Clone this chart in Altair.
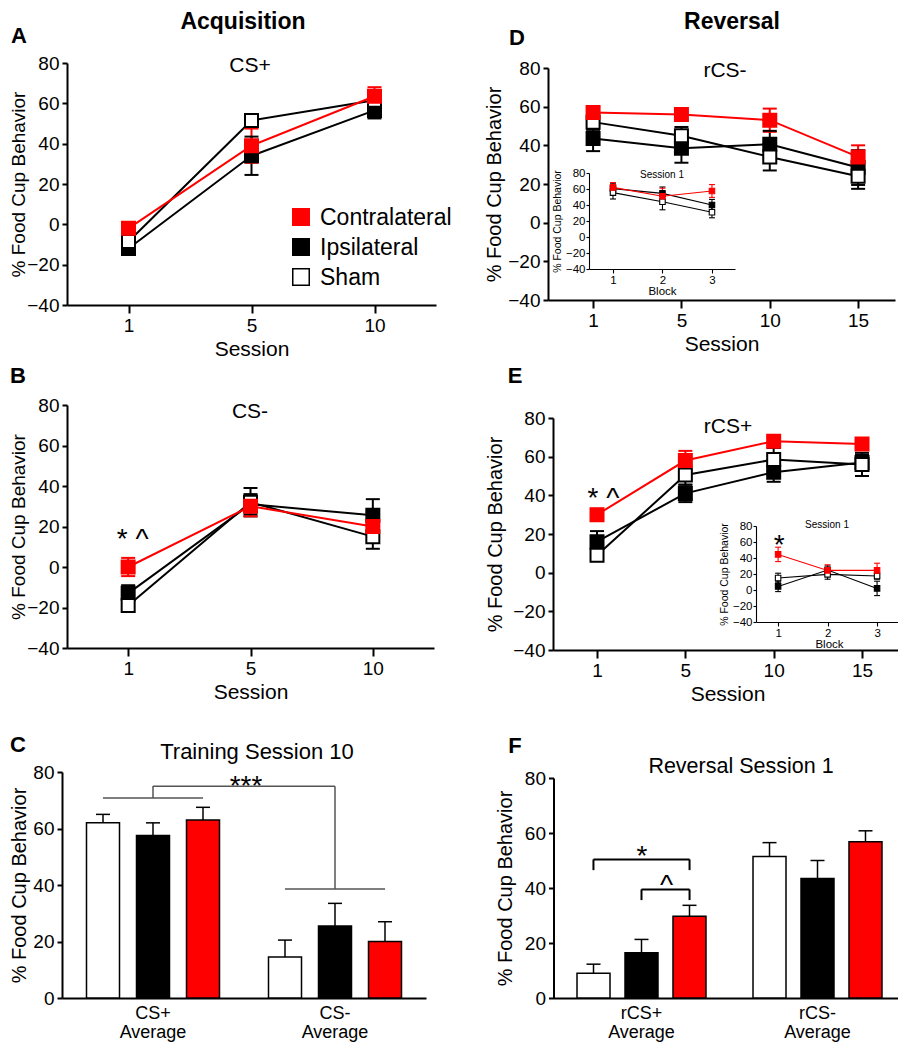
import altair as alt
import pandas as pd

# ---------------- data ----------------
GROUPS = ["Contralateral", "Ipsilateral", "Sham"]
DRAW_ORDER = ["Ipsilateral", "Sham", "Contralateral"]
BAR_ORDER = ["Sham", "Ipsilateral", "Contralateral"]
FILL_RANGE = ["#ff0000", "#000000", "#ffffff"]
EDGE_RANGE = ["#ff0000", "#000000", "#000000"]

SESSIONS_ACQ = ["1", "5", "10"]
SESSIONS_REV = ["1", "5", "10", "15"]
BLOCKS = ["1", "2", "3"]

# A: CS+
A_CONTRA = [-2, 39, 63.5]
A_CONTRA_SEM = [3, 8.5, 4.5]
A_IPSI = [-12, 34, 56.5]
A_IPSI_SEM = [2.5, 9.5, 4]
A_SHAM = [-8.5, 51.5, 61.5]
A_SHAM_SEM = [3, 3, 3]

# B: CS-
B_CONTRA = [0, 30, 20]
B_CONTRA_SEM = [4.5, 5, 7]
B_IPSI = [-13, 31, 25.5]
B_IPSI_SEM = [4, 5, 8]
B_SHAM = [-19, 32, 15]
B_SHAM_SEM = [3, 7, 6]

# C: Training Session 10
C_CATS = ["CS+|Average", "CS-|Average"]
C_SHAM = [62, 14.5]
C_SHAM_SEM = [3, 6]
C_IPSI = [57.5, 25.5]
C_IPSI_SEM = [4.5, 8]
C_CONTRA = [63, 20]
C_CONTRA_SEM = [4.5, 7]
C_BR_X = [0.225, 0.5, 0.5, 1.5, 1.225]
C_BR_X2 = [0.775, 0.5, 1.5, 1.5, 1.775]
C_BR_Y = [70.8, 70.8, 75, 75, 38.6]
C_BR_Y2 = [70.8, 75, 75, 38.6, 38.6]
C_SIG = ["***"]
C_SIG_X = [1.011]
C_SIG_Y = [71.9]

# D: rCS-
D_CONTRA = [57, 56, 53, 34]
D_CONTRA_SEM = [2.5, 3, 6, 6]
D_IPSI = [43.5, 38.5, 40.5, 28.5]
D_IPSI_SEM = [6.5, 7.5, 7, 9]
D_SHAM = [52, 45, 34, 24]
D_SHAM_SEM = [4, 4.5, 7, 6.5]

# D inset: session 1 blocks
DI_CONTRA = [62, 51, 57.5]
DI_CONTRA_SEM = [6, 10, 8]
DI_IPSI = [60.5, 54.5, 40]
DI_IPSI_SEM = [6, 8, 7]
DI_SHAM = [55.5, 44, 31]
DI_SHAM_SEM = [8, 10, 7]

# E: rCS+
E_CONTRA = [30, 58, 68, 66.5]
E_CONTRA_SEM = [3, 5, 2, 2]
E_IPSI = [16, 41, 52, 57]
E_IPSI_SEM = [5.5, 4.5, 5, 4]
E_SHAM = [9, 50.5, 58.5, 56]
E_SHAM_SEM = [3, 5, 6, 6]

# E inset: session 1 blocks
EI_CONTRA = [44.5, 24.5, 24.5]
EI_CONTRA_SEM = [9, 7, 9]
EI_IPSI = [4.5, 25, 2]
EI_IPSI_SEM = [6.5, 5, 9]
EI_SHAM = [15, 19.5, 17.5]
EI_SHAM_SEM = [6, 6, 4]

# F: Reversal Session 1
F_CATS = ["rCS+|Average", "rCS-|Average"]
F_SHAM = [9, 51.5]
F_SHAM_SEM = [3.3, 5]
F_IPSI = [16.5, 43.5]
F_IPSI_SEM = [4.8, 6.5]
F_CONTRA = [29.7, 56.8]
F_CONTRA_SEM = [4, 4]
F_BR_X = [0.227, 0.227, 0.773, 0.5, 0.5, 0.773]
F_BR_X2 = [0.227, 0.773, 0.773, 0.5, 0.773, 0.773]
F_BR_Y = [46.5, 50.4, 50.4, 35.6, 39.5, 39.5]
F_BR_Y2 = [50.4, 50.4, 46.5, 39.5, 39.5, 35.6]
F_SIG = ["*", "^"]
F_SIG_X = [0.503, 0.642]
F_SIG_Y = [48.4, 37.8]

# ---------------- layout / style ----------------
W, H, M = 890, 1034, 8
FONT = "Liberation Sans"
Y_TICKS = [-40, -20, 0, 20, 40, 60, 80]
BAR_TICKS = [0, 20, 40, 60, 80]

fill_scale = alt.Scale(domain=GROUPS, range=FILL_RANGE)
edge_scale = alt.Scale(domain=GROUPS, range=EDGE_RANGE)


def px(v):
    return v - M


def line_panel(xs, series, xr, yr, pad, align, xtitle, big, star=None, ytp=None, ytfs=None):
    rows = []
    for g in DRAW_ORDER:
        m, s = series[g]
        for i, (x, mv, sv) in enumerate(zip(xs, m, s)):
            rows.append({"x": x, "i": i, "group": g, "mean": mv, "lo": mv - sv, "hi": mv + sv})
    df = pd.DataFrame(rows)
    lw = 2.0 if big else 1.1
    xscale = alt.Scale(type="point", domain=xs, range=[px(xr[0]), px(xr[1])], padding=pad, align=align)
    yscale = alt.Scale(type="linear", domain=[-40, 80], range=[px(yr[0]), px(yr[1])], nice=False, zero=False)
    xaxis = alt.Axis(orient="bottom", offset=px(yr[0]) - H, title=xtitle, labelAngle=0,
                     labelFontSize=19 if big else 11.5, titleFontSize=21 if big else 11.5,
                     tickSize=8 if big else 4, tickWidth=lw, domainWidth=lw,
                     labelPadding=3 if big else 1, titlePadding=3 if big else 0)
    if ytp is None:
        ytp = 9 if big else 3
    if ytfs is None:
        ytfs = 20 if big else 10.5
    yaxis = alt.Axis(orient="left", offset=-px(xr[0]), values=Y_TICKS, title="% Food Cup Behavior",
                     labelFontSize=19 if big else 11.5, titleFontSize=ytfs,
                     tickSize=5 if big else 3, tickWidth=lw, domainWidth=lw,
                     labelPadding=3 if big else 1, titlePadding=ytp)
    X = alt.X("x:N", scale=xscale, axis=xaxis, sort=xs)

    def Y(f):
        return alt.Y(f"{f}:Q", scale=yscale, axis=yaxis)

    base = alt.Chart(df)
    stroke = alt.Stroke("group:N", scale=edge_scale)
    line = base.mark_line(strokeWidth=lw).encode(x=X, y=Y("mean"), stroke=stroke, order="i:Q")
    err = base.mark_rule(strokeWidth=lw).encode(x=X, y=Y("lo"), y2="hi:Q", stroke=stroke)
    caps = [base.mark_tick(thickness=lw, size=14 if big else 6, opacity=1).encode(
        x=X, y=Y(f), color=alt.Color("group:N", scale=edge_scale)) for f in ("lo", "hi")]
    pts = base.mark_square(size=169 if big else 30, strokeWidth=lw, opacity=1).encode(
        x=X, y=Y("mean"), fill=alt.Fill("group:N", scale=fill_scale), stroke=stroke)
    layers = [line, err, *caps, pts]
    if star is not None:
        t, yv, dx = star
        sdf = pd.DataFrame({"x": [xs[0]], "mean": [yv], "t": [t]})
        layers.append(alt.Chart(sdf).mark_text(fontSize=28, font=FONT, baseline="alphabetic", dx=dx,
                                               color="black").encode(x=X, y=Y("mean"), text="t:N"))
    return alt.layer(*layers)


def bar_panel(cats, series, xr, yr, inner, outer, ytp):
    rows = []
    for g in BAR_ORDER:
        m, s = series[g]
        for c, mv, sv in zip(cats, m, s):
            rows.append({"cat": c, "group": g, "mean": mv, "hi": mv + sv})
    df = pd.DataFrame(rows)
    xscale = alt.Scale(type="band", domain=cats, range=[px(xr[0]), px(xr[1])], paddingInner=0, paddingOuter=0)
    oscale = alt.Scale(type="band", domain=BAR_ORDER, paddingInner=inner, paddingOuter=outer)
    yscale = alt.Scale(type="linear", domain=[0, 80], range=[px(yr[0]), px(yr[1])], nice=False, zero=False)
    xaxis = alt.Axis(orient="bottom", offset=px(yr[0]) - H, title=None, ticks=False, labelAngle=0,
                     labelExpr="split(datum.label, '|')", labelFontSize=18, labelLineHeight=19,
                     labelPadding=6, domainWidth=2)
    yaxis = alt.Axis(orient="left", offset=-px(xr[0]), values=BAR_TICKS, title="% Food Cup Behavior",
                     labelFontSize=19, titleFontSize=20, tickSize=5, tickWidth=2, domainWidth=2,
                     labelPadding=3, titlePadding=ytp)
    X = alt.X("cat:N", scale=xscale, axis=xaxis, sort=cats)
    XO = alt.XOffset("group:N", scale=oscale, sort=BAR_ORDER)

    def Y(f):
        return alt.Y(f"{f}:Q", scale=yscale, axis=yaxis)

    base = alt.Chart(df)
    bars = base.mark_bar(stroke="black", strokeWidth=1.5).encode(
        x=X, xOffset=XO, y=Y("mean"), fill=alt.Fill("group:N", scale=fill_scale))
    err = base.mark_rule(strokeWidth=1.5, color="black").encode(x=X, xOffset=XO, y=Y("mean"), y2="hi:Q")
    cap = base.mark_tick(thickness=1.5, size=14, color="black", opacity=1).encode(x=X, xOffset=XO, y=Y("hi"))
    return alt.layer(bars, err, cap)


def bracket_layer(xr, yr, bx, bx2, by, by2, color, width, sig, sx, sy):
    xs = alt.Scale(type="linear", domain=[0, 2], range=[px(xr[0]), px(xr[1])], nice=False, zero=False)
    ys = alt.Scale(type="linear", domain=[0, 80], range=[px(yr[0]), px(yr[1])], nice=False, zero=False)
    df = pd.DataFrame({"x": bx, "x2": bx2, "y": by, "y2": by2})
    rules = alt.Chart(df).mark_rule(color=color, strokeWidth=width).encode(
        x=alt.X("x:Q", scale=xs, axis=None), x2="x2:Q",
        y=alt.Y("y:Q", scale=ys, axis=None), y2="y2:Q")
    tdf = pd.DataFrame({"x": sx, "y": sy, "t": sig})
    text = alt.Chart(tdf).mark_text(fontSize=28, font=FONT, baseline="alphabetic", color="black").encode(
        x=alt.X("x:Q", scale=xs, axis=None), y=alt.Y("y:Q", scale=ys, axis=None), text="t:N")
    return alt.layer(rules, text)


def legend_layer(x_sym, x_text, y_first, y_last):
    ldf = pd.DataFrame({"group": GROUPS})
    ys = alt.Scale(type="point", domain=GROUPS, range=[px(y_first), px(y_last)], padding=0)
    Yl = alt.Y("group:N", scale=ys, axis=None, sort=GROUPS)
    sq = alt.Chart(ldf).mark_square(size=272, strokeWidth=1.5, opacity=1).encode(
        x=alt.value(px(x_sym)), y=Yl,
        fill=alt.Fill("group:N", scale=fill_scale), stroke=alt.Stroke("group:N", scale=edge_scale))
    txt = alt.Chart(ldf).mark_text(align="left", baseline="alphabetic", dy=8.3, fontSize=23, font=FONT,
                                   color="black").encode(x=alt.value(px(x_text)), y=Yl, text="group:N")
    return alt.layer(sq, txt)


def label(text, x, y, size, bold=False):
    return alt.Chart(pd.DataFrame({"t": [text]})).mark_text(
        font=FONT, fontSize=size, fontWeight="bold" if bold else "normal",
        baseline="alphabetic", align="center", color="black").encode(
        x=alt.value(px(x)), y=alt.value(px(y)), text="t:N")


panel_a = line_panel(SESSIONS_ACQ, {"Contralateral": (A_CONTRA, A_CONTRA_SEM), "Ipsilateral": (A_IPSI, A_IPSI_SEM),
                                    "Sham": (A_SHAM, A_SHAM_SEM)},
                     (67, 436), (305, 63), 0.5, 0.5, "Session", True, ytp=-2, ytfs=19)
legend_a = legend_layer(301, 320, 217, 277)
panel_b = line_panel(SESSIONS_ACQ, {"Contralateral": (B_CONTRA, B_CONTRA_SEM), "Ipsilateral": (B_IPSI, B_IPSI_SEM),
                                    "Sham": (B_SHAM, B_SHAM_SEM)},
                     (67, 434), (648, 405), 0.5, 0.5, "Session", True, star=("* ^", 9.4, 4.5), ytp=-2, ytfs=19)
panel_c = bar_panel(C_CATS, {"Sham": (C_SHAM, C_SHAM_SEM), "Ipsilateral": (C_IPSI, C_IPSI_SEM),
                             "Contralateral": (C_CONTRA, C_CONTRA_SEM)},
                    (62, 426), (998, 772), 0.34, 0.49, 3)
ann_c = bracket_layer((62, 426), (998, 772), C_BR_X, C_BR_X2, C_BR_Y, C_BR_Y2, "#555555", 1.5,
                      C_SIG, C_SIG_X, C_SIG_Y)
panel_d = line_panel(SESSIONS_REV, {"Contralateral": (D_CONTRA, D_CONTRA_SEM), "Ipsilateral": (D_IPSI, D_IPSI_SEM),
                                    "Sham": (D_SHAM, D_SHAM_SEM)},
                     (548, 895), (300, 68), 0.464, 0.55, "Session", True, ytp=3)
inset_d = line_panel(BLOCKS, {"Contralateral": (DI_CONTRA, DI_CONTRA_SEM), "Ipsilateral": (DI_IPSI, DI_IPSI_SEM),
                              "Sham": (DI_SHAM, DI_SHAM_SEM)},
                     (589, 735), (269, 173), 0.475, 0.51, "Block", False)
panel_e = line_panel(SESSIONS_REV, {"Contralateral": (E_CONTRA, E_CONTRA_SEM), "Ipsilateral": (E_IPSI, E_IPSI_SEM),
                                    "Sham": (E_SHAM, E_SHAM_SEM)},
                     (553, 902), (650, 418), 0.4755, 0.524, "Session", True, star=("* ^", 34, 6.5), ytp=7)
inset_e = line_panel(BLOCKS, {"Contralateral": (EI_CONTRA, EI_CONTRA_SEM), "Ipsilateral": (EI_IPSI, EI_IPSI_SEM),
                              "Sham": (EI_SHAM, EI_SHAM_SEM)},
                     (756, 902), (622, 526), 0.475, 0.47, "Block", False, star=("*", 45, 1))
panel_f = bar_panel(F_CATS, {"Sham": (F_SHAM, F_SHAM_SEM), "Ipsilateral": (F_IPSI, F_IPSI_SEM),
                             "Contralateral": (F_CONTRA, F_CONTRA_SEM)},
                    (553.5, 905.5), (998, 778), 0.3125, 0.49, 9)
ann_f = bracket_layer((553.5, 905.5), (998, 778), F_BR_X, F_BR_X2, F_BR_Y, F_BR_Y2, "black", 2,
                      F_SIG, F_SIG_X, F_SIG_Y)

labels = [
    label("Acquisition", 243, 29, 23, True),
    label("Reversal", 732, 29, 23, True),
    label("A", 19, 43, 22, True),
    label("B", 18, 383, 22, True),
    label("C", 18, 752, 22, True),
    label("D", 517, 45, 22, True),
    label("E", 515, 383, 22, True),
    label("F", 515, 753, 22, True),
    label("CS+", 250, 72, 21),
    label("CS-", 250, 418, 21),
    label("Training Session 10", 257, 759, 22),
    label("rCS-", 725, 77, 21),
    label("rCS+", 728, 433, 21),
    label("Reversal Session 1", 741, 773, 21.5),
    label("Session 1", 662, 178, 10),
    label("Session 1", 827, 528, 10),
]

chart = alt.layer(panel_a, legend_a, panel_b, panel_c, ann_c, panel_d, inset_d, panel_e, inset_e,
                  panel_f, ann_f, *labels).resolve_scale(
    x="independent", y="independent", xOffset="independent"
).properties(
    width=W, height=H, autosize=alt.AutoSizeParams(type="none"), padding=0
).configure_view(stroke=None).configure_legend(disable=True).configure_axis(
    grid=False, domainColor="black", tickColor="black", labelColor="black", titleColor="black",
    labelFont=FONT, titleFont=FONT, titleFontWeight="normal", labelFlush=False, labelOverlap=False
)

chart.save("out.html", embed_options={"renderer": "svg", "actions": False})
